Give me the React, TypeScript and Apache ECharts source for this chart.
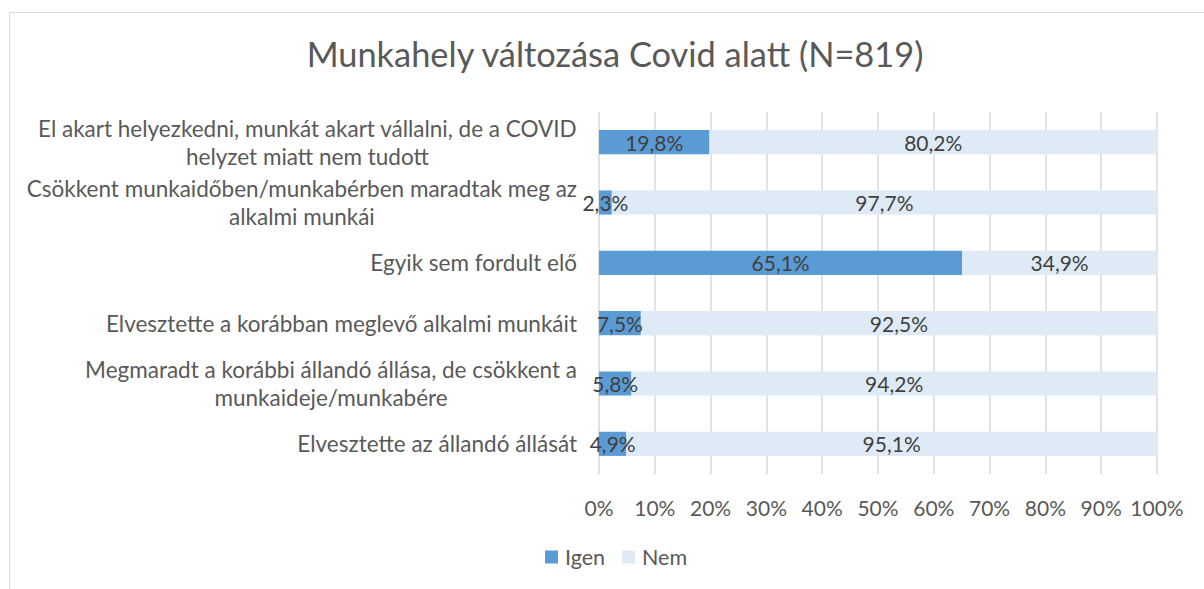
import React, { useEffect, useRef } from "react";
import * as echarts from "echarts";

const titleText = "Munkahely változása Covid alatt (N=819)";
const categories = [
  "El akart helyezkedni, munkát akart vállalni, de a COVID\nhelyzet miatt nem tudott",
  "Csökkent munkaidőben/munkabérben maradtak meg az\nalkalmi munkái",
  "Egyik sem fordult elő",
  "Elvesztette a korábban meglevő alkalmi munkáit",
  "Megmaradt a korábbi állandó állása, de csökkent a\nmunkaideje/munkabére",
  "Elvesztette az állandó állását",
];
const igenValues = [19.8, 2.3, 65.1, 7.5, 5.8, 4.9];
const nemValues = [80.2, 97.7, 34.9, 92.5, 94.2, 95.1];
const seriesNames = ["Igen", "Nem"];
const seriesColors = ["#5B9BD5", "#DEEBF7"];

const FONT = "Lato";

export default function App() {
  const ref = useRef<HTMLDivElement>(null);
  useEffect(() => {
    if (!ref.current) return;
    const chart = echarts.init(ref.current, undefined, { renderer: "svg" });
    const fmt = (v: number) => v.toFixed(1).replace(".", ",") + "%";
    const labelStyle = {
      show: true,
      position: "inside",
      color: "#404040",
      fontFamily: FONT,
      fontSize: 21,
      formatter: (p: any) => fmt(p.value),
    };
    chart.setOption({
      animation: false,
      textStyle: { fontFamily: FONT },
      title: {
        text: titleText,
        left: 610,
        textAlign: "center",
        top: 31,
        textStyle: { fontFamily: FONT, fontSize: 34.4, fontWeight: "normal", color: "#595959" },
      },
      legend: {
        data: seriesNames,
        left: 540,
        top: 541,
        itemWidth: 13,
        itemHeight: 13,
        itemGap: 17,
        icon: "rect",
        textStyle: { fontFamily: FONT, fontSize: 21.5, color: "#595959", padding: [0, 0, 0, 2] },
      },
      grid: { left: 599, top: 112, width: 558, height: 362, containLabel: false },
      xAxis: {
        type: "value",
        min: 0,
        max: 100,
        interval: 10,
        axisLine: { show: false },
        axisTick: { show: false },
        splitLine: { lineStyle: { color: "#D9D9D9", width: 1.5 } },
        axisLabel: {
          formatter: (v: number) => v + "%",
          color: "#595959",
          fontFamily: FONT,
          fontSize: 21,
          margin: 23,
        },
      },
      yAxis: {
        type: "category",
        data: categories,
        inverse: true,
        axisLine: { show: false },
        axisTick: { show: false },
        axisLabel: {
          margin: 22,
          color: "#595959",
          fontFamily: FONT,
          fontSize: 22.5,
          lineHeight: 28,
          formatter: (v: string) =>
            v
              .split("\n")
              .map((l) => "{c|" + l + "}")
              .join("\n"),
          rich: {
            c: { align: "center", color: "#595959", fontFamily: FONT, fontSize: 22.5, lineHeight: 28 },
          },
        },
      },
      series: [
        {
          name: seriesNames[0],
          type: "bar",
          stack: "total",
          data: igenValues,
          barCategoryGap: "60%",
          itemStyle: { color: seriesColors[0] },
          label: labelStyle,
        },
        {
          name: seriesNames[1],
          type: "bar",
          stack: "total",
          data: nemValues,
          barCategoryGap: "60%",
          itemStyle: { color: seriesColors[1] },
          label: labelStyle,
        },
      ],
    });
    return () => chart.dispose();
  }, []);
  return (
    <div style={{ position: "fixed", left: 0, top: 0, width: 1204, height: 589, overflow: "hidden", background: "#fff" }}>
      <div
        style={{
          position: "absolute",
          left: 9,
          top: 12,
          width: 1220,
          height: 600,
          border: "1.5px solid #D9D9D9",
          boxSizing: "border-box",
        }}
      />
      <div ref={ref} style={{ position: "absolute", left: 0, top: 0, width: 1204, height: 589 }} />
    </div>
  );
}
